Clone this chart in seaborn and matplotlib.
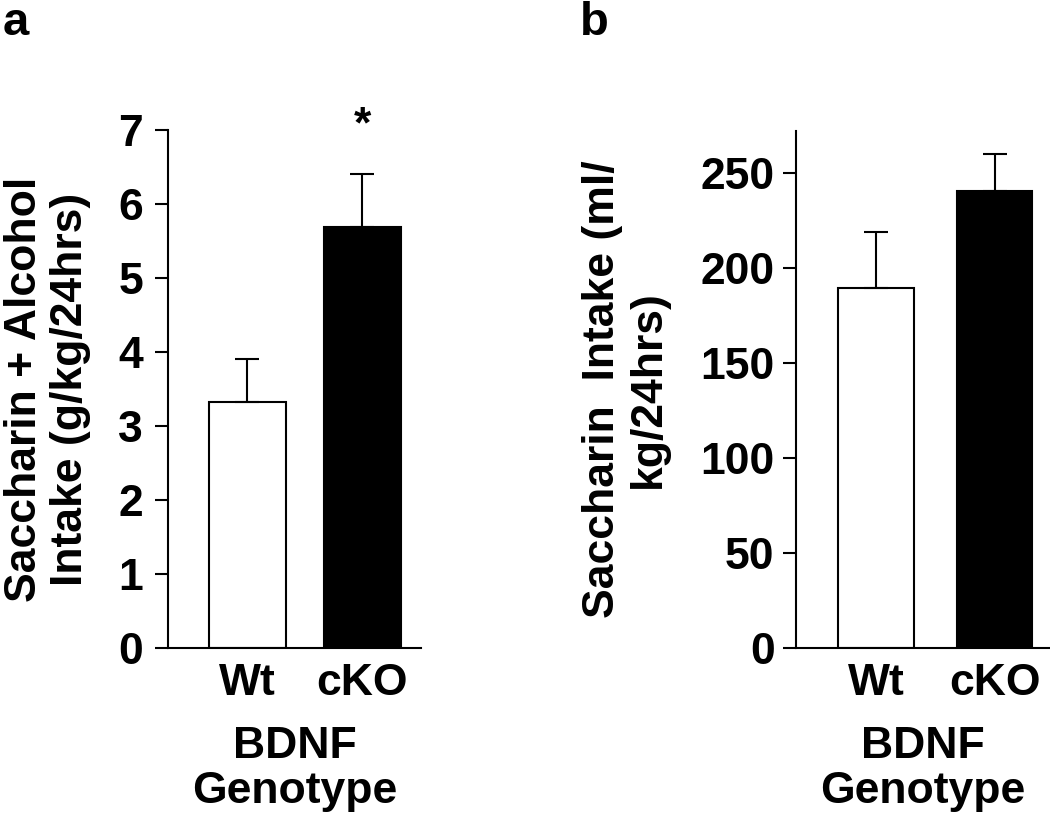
import matplotlib
matplotlib.use("Agg")
import matplotlib.pyplot as plt
import seaborn as sns
import pandas as pd

# ---- data ----
genotypes = ["Wt", "cKO"]
alcohol_mean = [3.32, 5.69]
alcohol_sem = [0.59, 0.72]
saccharin_mean = [189.5, 240.2]
saccharin_sem = [29.1, 19.8]
alcohol_ticks = [0, 1, 2, 3, 4, 5, 6, 7]
saccharin_ticks = [0, 50, 100, 150, 200, 250]
bar_colors = ["white", "black"]

sns.set_style("ticks")
plt.rcParams["font.family"] = ["Liberation Sans", "DejaVu Sans"]
plt.rcParams["font.weight"] = "bold"
plt.rcParams["text.color"] = "black"
plt.rcParams["axes.labelcolor"] = "black"
plt.rcParams["xtick.color"] = "black"
plt.rcParams["ytick.color"] = "black"

W, H = 1050, 823
fig = plt.figure(figsize=(W / 100, H / 100), dpi=100)

FS = 32
LW = 1.5


def px_ax(l, r, b, t):
    return [l / W, 1 - b / H, (r - l) / W, (b - t) / H]


def draw(ax, means, sems, width, xlim, ylim, ticks, ylabel, ylab_x, tickpad):
    df = pd.DataFrame({"g": genotypes, "v": means})
    sns.barplot(data=df, x="g", y="v", hue="g", palette=bar_colors,
                edgecolor="black", linewidth=LW, width=width, ax=ax,
                legend=False, errorbar=None)
    ax.errorbar(x=[0, 1], y=means, yerr=[[0, 0], sems], fmt="none",
                ecolor="black", elinewidth=LW, capsize=8.5, capthick=LW,
                zorder=5)
    ax.set_xlim(*xlim)
    ax.set_ylim(*ylim)
    ax.set_yticks(ticks)
    ax.set_yticklabels([str(t) for t in ticks])
    for s in ["top", "right"]:
        ax.spines[s].set_visible(False)
    for s in ["left", "bottom"]:
        ax.spines[s].set_linewidth(LW)
        ax.spines[s].set_color("black")
    ax.tick_params(axis="y", direction="out", length=9.4, width=LW,
                   labelsize=FS, pad=tickpad, colors="black")
    ax.tick_params(axis="x", length=0, labelsize=FS, pad=11, colors="black")
    for lab in ax.get_xticklabels() + ax.get_yticklabels():
        lab.set_fontweight("bold")
        lab.set_color("black")
    ax.set_xlabel("BDNF\nGenotype", fontsize=FS, fontweight="bold",
                  linespacing=1.15, color="black")
    ax.xaxis.set_label_coords(0.5, -0.15)
    ax.xaxis.label.set_va("top")
    ax.set_ylabel(ylabel, fontsize=FS, fontweight="bold", linespacing=1.15,
                  color="black")
    ax.yaxis.set_label_coords(ylab_x, 0.5)
    ax.set_facecolor("white")


ax1 = fig.add_axes(px_ax(168, 421, 648, 130))
draw(ax1, alcohol_mean, alcohol_sem, 0.67, (-0.691, 1.509), (0, 7),
     alcohol_ticks, "Saccharin + Alcohol\nIntake (g/kg/24hrs)", -0.305, 8.5)
ax1.text(1, 6.78, "*", ha="center", va="bottom", fontsize=FS,
         fontweight="bold", clip_on=False, color="black")

ax2 = fig.add_axes(px_ax(796, 1050, 648, 130.7))
draw(ax2, saccharin_mean, saccharin_sem, 0.64, (-0.675, 1.468), (0, 272),
     saccharin_ticks, "Saccharin  Intake (ml/\nkg/24hrs)", -0.50, 6)

fig.text(3 / W, 1 - 35 / H, "a", fontsize=34, fontweight="bold",
         ha="left", va="baseline", color="black")
fig.text(580 / W, 1 - 35 / H, "b", fontsize=34, fontweight="bold",
         ha="left", va="baseline", color="black")

fig.savefig("out.png", dpi=100, facecolor="white")
